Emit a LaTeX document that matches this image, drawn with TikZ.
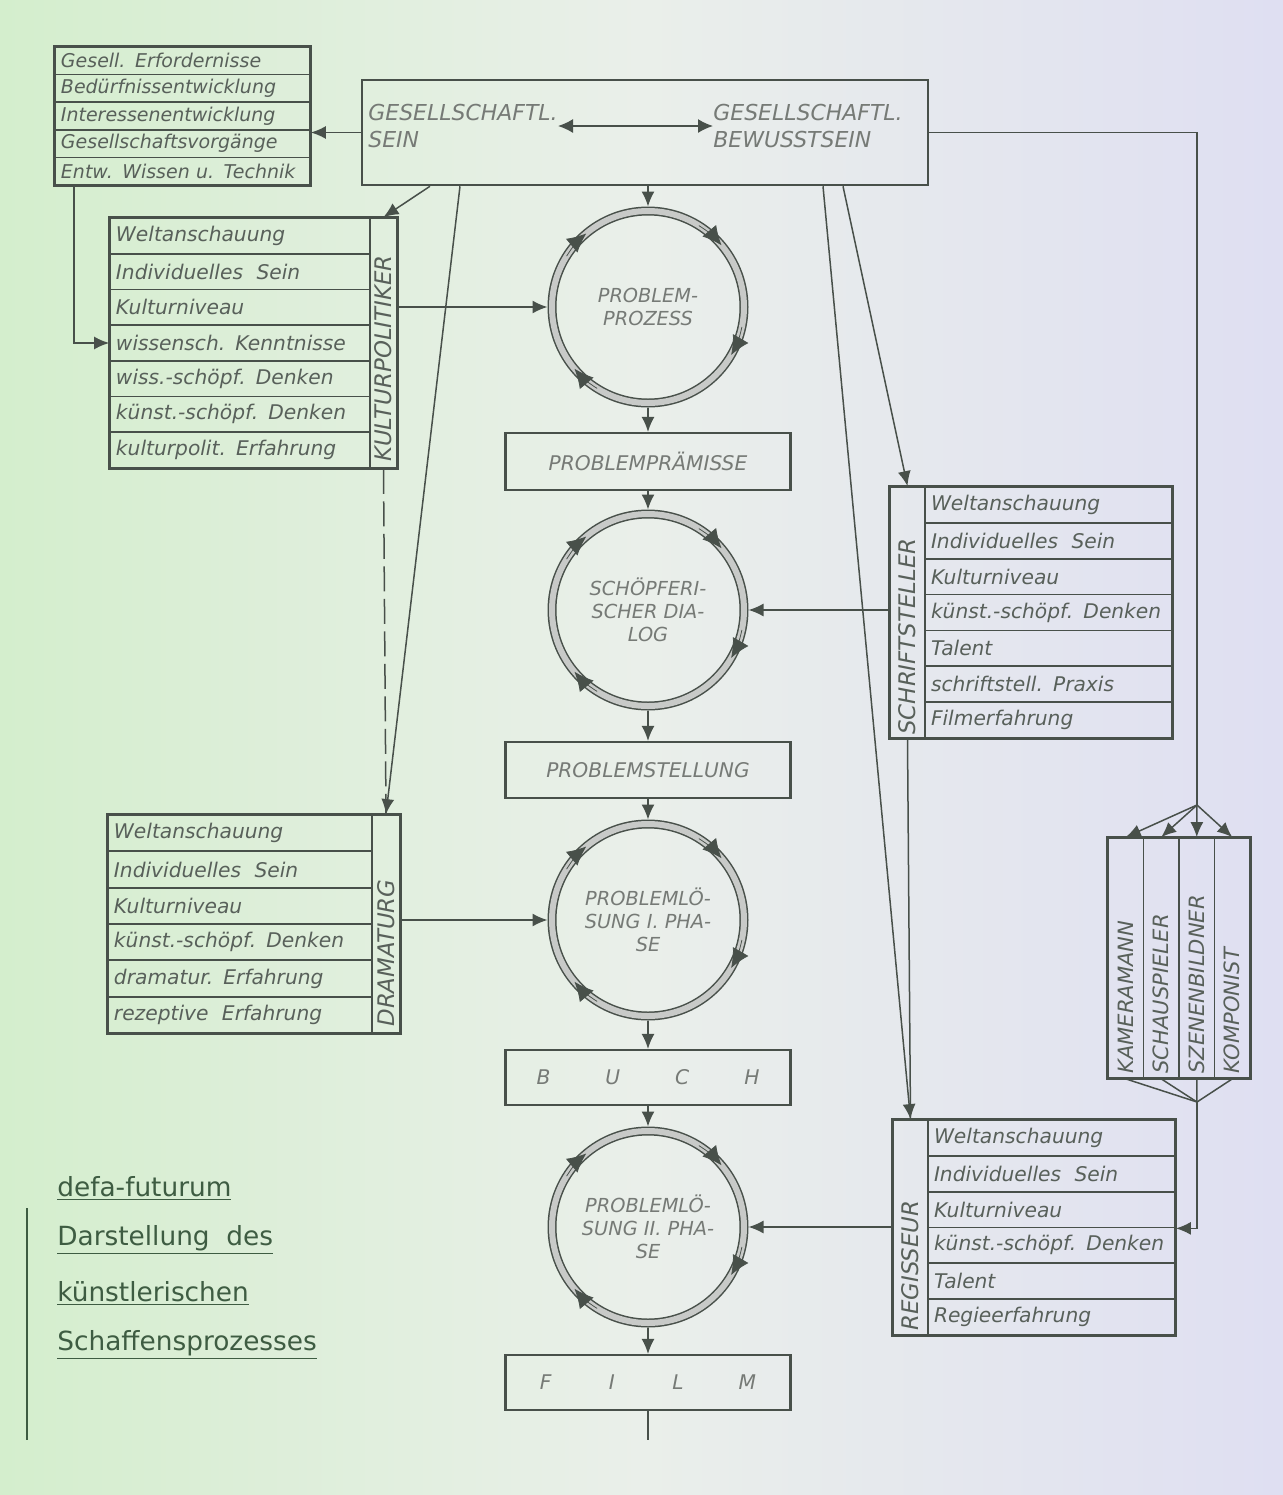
\documentclass[tikz,border=0pt]{standalone}
\usepackage{fontspec}
\setmainfont{DejaVu Sans}
\usepackage{graphicx}
\usetikzlibrary{arrows.meta,positioning}
\definecolor{ink}{RGB}{72,80,74}
\definecolor{listtxt}{RGB}{88,96,90}
\definecolor{capgray}{RGB}{118,122,118}
\definecolor{ringgray}{RGB}{200,202,200}
\definecolor{bgleft}{RGB}{212,238,205}
\definecolor{bgmid}{RGB}{234,239,234}
\definecolor{bgright}{RGB}{223,223,242}
\definecolor{titlegreen}{RGB}{62,92,66}

\begin{document}
\begin{tikzpicture}[x=0.2mm, y=-0.2mm,
  conn/.style={draw=ink, line width=0.3mm, -{Latex[length=3mm,width=2.6mm]}},
  dbl/.style={draw=ink, line width=0.3mm, {Latex[length=3mm,width=2.8mm]}-{Latex[length=3mm,width=2.8mm]}},
  link/.style={draw=ink, line width=0.3mm},
  frame/.style={draw=ink, line width=0.6mm},
  bigbox/.style={draw=ink, line width=0.5mm, rectangle, inner sep=0pt},
  captxt/.style={inner sep=0pt, align=left, text=capgray, font=\fontsize{12.5}{15}\selectfont\itshape},
  stepbox/.style={draw=ink, line width=0.45mm, rectangle, minimum width=57mm, text=capgray, font=\fontsize{11.5}{13}\selectfont\itshape},
  ring/.style={circle, draw=ink, line width=0.3mm, double=ringgray, double distance=1.2mm, minimum size=38.4mm, outer sep=0.9mm, inner sep=0pt, align=center, text=capgray, font=\fontsize{11}{13}\selectfont\itshape},
  ringtip/.style={draw=ink, line width=0.15mm, -{Latex[length=3.8mm,width=3.6mm]}},
  row/.style={rectangle, draw=ink, line width=0.35mm, inner xsep=1.2mm, inner ysep=0pt, align=left, text=listtxt, font=\fontsize{11.5}{13}\selectfont\itshape},
  labcol/.style={rectangle, draw=ink, line width=0.35mm, inner sep=0pt},
  labtxt/.style={rotate=90, anchor=west, inner sep=0pt, text=listtxt, font=\fontsize{13}{14}\selectfont\itshape},
  titletxt/.style={anchor=west, inner sep=0pt, text=titlegreen, font=\fontsize{15}{17}\selectfont}
]
% Background
\shade[left color=bgleft, right color=bgright, middle color=bgmid] (0,0) rectangle (1283,1495);
\useasboundingbox (0,0) rectangle (1283,1495);

% Society box
\node[bigbox, minimum width=113.2mm, minimum height=21mm] (gsb) at (645,132.5) {};
\node[captxt, anchor=west] (sein) at (368,126) {GESELLSCHAFTL.\\SEIN};
\node[captxt, anchor=west] (bew) at (713,126) {GESELLSCHAFTL.\\BEWUSSTSEIN};
\draw[dbl] (sein.east) -- (bew.west);

% Social requirements list
\foreach \i/\txt in {1/Gesell. Erfordernisse, 2/Bedürfnissentwicklung, 3/Interessenentwicklung, 4/Gesellschaftsvorgänge, 5/Entw. Wissen u. Technik}
  \node[row, text width=48.6mm, minimum height=5.52mm, font=\fontsize{10.8}{12}\selectfont\itshape] (gl\i) at (182.5,{47+27.6*(\i-0.5)}) {\txt};
\draw[frame] (gl1.north west) rectangle (gl5.south east);

% Kulturpolitiker
\foreach \i/\txt in {1/Weltanschauung, 2/Individuelles~~Sein, 3/Kulturniveau, 4/wissensch. Kenntnisse, 5/wiss.-schöpf. Denken, 6/künst.-schöpf. Denken, 7/kulturpolit. Erfahrung}
  \node[row, text width=49.6mm, minimum height=7.14mm] (kp\i) at (240,{218+35.71*(\i-0.5)}) {\txt};
\node[labcol, minimum width=5.4mm, minimum height=50mm] (kpl) at (383.5,343) {};
\node[labtxt] (kpt) at ([yshift=1.4mm]kpl.south) {KULTURPOLITIKER};
\draw[frame] (kp1.north west) rectangle (kpl.south east);

% Dramaturg
\foreach \i/\txt in {1/Weltanschauung, 2/Individuelles~~Sein, 3/Kulturniveau, 4/künst.-schöpf. Denken, 5/dramatur. Erfahrung, 6/rezeptive~~Erfahrung}
  \node[row, text width=50.4mm, minimum height=7.27mm] (dr\i) at (240,{815+36.33*(\i-0.5)}) {\txt};
\node[labcol, minimum width=5.6mm, minimum height=43.6mm] (dl) at (386,924) {};
\node[labtxt] (dlt) at ([yshift=1.4mm]dl.south) {DRAMATURG};
\draw[frame] (dr1.north west) rectangle (dl.south east);

% Schriftsteller
\foreach \i/\txt in {1/Weltanschauung, 2/Individuelles~~Sein, 3/Kulturniveau, 4/künst.-schöpf. Denken, 5/Talent, 6/schriftstell. Praxis, 7/Filmerfahrung}
  \node[row, text width=47mm, minimum height=7.17mm] (ss\i) at (1048.5,{487+35.86*(\i-0.5)}) {\txt};
\node[labcol, minimum width=7mm, minimum height=50.2mm] (ssl) at (907.5,612.5) {};
\node[labtxt] (sst) at ([yshift=0.8mm]ssl.south) {SCHRIFTSTELLER};
\draw[frame] (ssl.north west) rectangle (ss7.south east);

% Regisseur
\foreach \i/\txt in {1/Weltanschauung, 2/Individuelles~~Sein, 3/Kulturniveau, 4/künst.-schöpf. Denken, 5/Talent, 6/Regieerfahrung}
  \node[row, text width=47mm, minimum height=7.17mm] (rg\i) at (1051.5,{1120+35.83*(\i-0.5)}) {\txt};
\node[labcol, minimum width=7mm, minimum height=43mm] (rgl) at (910.5,1227.5) {};
\node[labtxt] (rgt) at ([yshift=1mm]rgl.south) {REGISSEUR};
\draw[frame] (rgl.north west) rectangle (rg6.south east);

% Crew columns
\foreach \i/\n/\txt in {1/km/KAMERAMANN, 2/sp/SCHAUSPIELER, 3/sb/SZENENBILDNER, 4/ko/KOMPONIST} {
  \node[labcol, minimum width=7.1mm, minimum height=48mm] (\n) at ({1108+35.5*(\i-0.5)},958) {};
  \node[labtxt, font=\fontsize{12}{13}\selectfont\itshape] (\n t) at ([yshift=1mm]\n.south) {\txt};
}
\draw[frame] (km.north west) rectangle (ko.south east);

% Process chain
\node[ring] (c1) at (648,307) {PROBLEM-\\PROZESS};
\node[stepbox, minimum height=11.4mm] (pp) at (648,461.5) {PROBLEMPRÄMISSE};
\node[ring] (c2) at (648,610) {SCHÖPFERI-\\SCHER DIA-\\LOG};
\node[stepbox, minimum height=11.2mm] (ps) at (648,770) {PROBLEMSTELLUNG};
\node[ring] (c3) at (648,920) {PROBLEMLÖ-\\SUNG I. PHA-\\SE};
\node[stepbox, minimum height=11mm] (buch) at (648,1077.5) {B\hspace{11mm}U\hspace{11mm}C\hspace{11mm}H};
\node[ring] (c4) at (648,1227) {PROBLEMLÖ-\\SUNG II. PHA-\\SE};
\node[stepbox, minimum height=11mm] (film) at (648,1382.5) {F\hspace{11.5mm}I\hspace{11.5mm}L\hspace{11mm}M};
\coordinate (filmend) at (648,1440);

% Ring arrows
\foreach \cn in {c1,c2,c3,c4}
  \foreach \ang in {130,40,-30,220}
    \draw[ringtip] ([shift={(\ang+18:19.2mm)}]\cn.center) arc[start angle=\ang+18, end angle=\ang, radius=19.2mm];

% Chain arrows
\draw[conn] (c1.north |- gsb.south) -- (c1.north);
\draw[conn] (c1.south) -- (pp.north);
\draw[conn] (pp.south) -- (c2.north);
\draw[conn] (c2.south) -- (ps.north);
\draw[conn] (ps.south) -- (c3.north);
\draw[conn] (c3.south) -- (buch.north);
\draw[conn] (buch.south) -- (c4.north);
\draw[conn] (c4.south) -- (film.north);
\draw[link] (film.south) -- (filmend);

% Left side links
\draw[conn] (gsb.west) -- (gsb.west -| gl1.east);
\draw[conn] ([xshift=4mm]gl5.south west) |- (kp4.west);
\draw[conn] ([xshift=-43mm]gsb.south) -- (kpl.north);
\draw[conn] (c1.west -| kpl.east) -- (c1.west);
\draw[link, dash pattern=on 5mm off 1.5mm] (kpl.south) -- (dl.north);
\draw[conn] ([xshift=-37mm]gsb.south) -- (dl.north);
\draw[conn] (c3.west -| dl.east) -- (c3.west);

% Right side links
\draw[conn] ([xshift=39.6mm]gsb.south) -- (ssl.north);
\draw[conn] ([xshift=35.6mm]gsb.south) -- (rgl.north);
\draw[link] (ssl.south) -- (rgl.north);
\draw[conn] (c2.east -| ssl.west) -- (c2.east);
\draw[conn] (c4.east -| rgl.west) -- (c4.east);

% Crew links
\coordinate (apex) at (1197,805);
\coordinate (base) at (1197,1102);
\draw[link] (gsb.east) -| (apex);
\foreach \n in {km,sp,sb,ko} {
  \draw[conn] (apex) -- (\n.north);
  \draw[link] (\n.south) -- (base);
}
\draw[conn] (base) |- (rg3.south east);

% Title
\draw[titlegreen, line width=0.5mm] (27,1208) -- (27,1440);
\node[titletxt] (t1) at (57,1188) {\underline{defa-futurum}};
\node[titletxt] (t2) at (57,1240) {\underline{Darstellung\ \ des}};
\node[titletxt] (t3) at (57,1293) {\underline{künstlerischen}};
\node[titletxt] (t4) at (57,1345) {\underline{Schaffensprozesses}};
\end{tikzpicture}
\end{document}
